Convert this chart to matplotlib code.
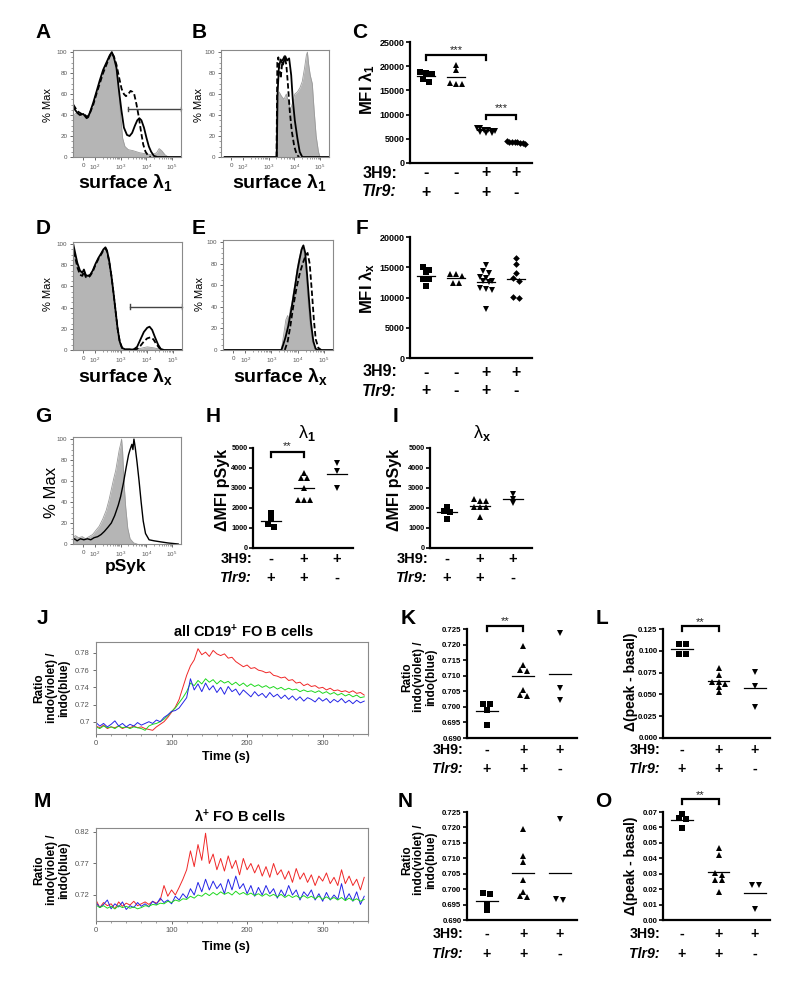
import numpy as np
import matplotlib
matplotlib.use('Agg')
import matplotlib.pyplot as plt
from matplotlib import transforms

plt.rcParams['font.family'] = ['Liberation Sans', 'DejaVu Sans']
plt.rcParams['mathtext.fontset'] = 'custom'
plt.rcParams['mathtext.rm'] = 'Liberation Sans:bold'
plt.rcParams['mathtext.bf'] = 'Liberation Sans:bold'
plt.rcParams['mathtext.it'] = 'Liberation Sans:bold:italic'
plt.rcParams['mathtext.default'] = 'bf'

# ---------------- histogram data (x = log10 display units, y = % max) ----------------
# panel A, surface lambda1
A_gray_x = [1.16, 1.29, 1.42, 1.55, 1.68, 1.81, 1.94, 2.06, 2.19, 2.32, 2.45, 2.58, 2.65, 2.71,
            2.82, 2.91, 3.0, 3.08, 3.17, 3.3, 3.49, 3.75, 4.01, 4.21, 4.4, 4.5, 4.6, 4.73, 4.86]
A_gray_y = [40, 42, 39, 41, 38, 43, 50, 60, 72, 82, 90, 97, 100, 96,
            88, 70, 40, 18, 10, 7, 6, 4, 3, 2, 4, 8, 6, 2, 0]
A_solid_x = [1.16, 1.23, 1.32, 1.42, 1.55, 1.68, 1.74, 1.83, 1.94, 2.06, 2.19, 2.32, 2.45, 2.58,
             2.66, 2.74, 2.84, 2.93, 3.03, 3.13, 3.25, 3.35, 3.45, 3.56, 3.65, 3.73, 3.81, 3.91,
             4.01, 4.1, 4.19, 4.3, 4.43, 5.33]
A_solid_y = [47, 45, 42, 40, 41, 37, 38, 44, 52, 62, 73, 83, 90, 97,
             100, 95, 85, 65, 45, 28, 21, 20, 23, 30, 35, 37, 35, 28,
             18, 10, 5, 1, 0, 0]
A_dash_x = [1.16, 1.26, 1.36, 1.49, 1.62, 1.71, 1.81, 1.94, 2.06, 2.19, 2.32, 2.45, 2.58, 2.66,
            2.74, 2.84, 2.95, 3.04, 3.13, 3.21, 3.3, 3.39, 3.47, 3.53, 3.62, 3.71, 3.79, 3.88,
            3.97, 4.08, 4.17]
A_dash_y = [50, 46, 43, 41, 40, 38, 42, 50, 60, 70, 80, 88, 96, 99,
            96, 88, 75, 65, 60, 58, 60, 63, 62, 60, 50, 38, 25, 12,
            5, 1, 0]
A_gate = (3.27, 46)

# panel B
B_gray_x = [1.29, 3.25, 3.29, 3.31, 3.34, 3.41, 3.5, 3.6, 3.69, 3.78, 3.85, 3.94, 4.02, 4.12,
            4.22, 4.31, 4.4, 4.47, 4.51, 4.56, 4.62, 4.7, 4.77, 4.85, 4.94, 5.0]
B_gray_y = [0, 0, 0, 30, 55, 62, 58, 55, 60, 52, 45, 52, 60, 62,
            66, 72, 85, 97, 100, 88, 78, 70, 45, 20, 5, 0]
B_solid_x = [1.29, 3.32, 3.35, 3.4, 3.47, 3.56, 3.65, 3.72, 3.8, 3.88, 3.94, 4.02, 4.12, 4.21,
             4.31, 5.35]
B_solid_y = [0, 0, 60, 85, 93, 88, 96, 92, 94, 78, 55, 35, 18, 5, 0, 0]
B_dash_x = [3.31, 3.34, 3.38, 3.42, 3.47, 3.54, 3.62, 3.69, 3.75, 3.82, 3.9, 4.0, 4.1, 4.19]
B_dash_y = [0, 90, 95, 85, 75, 92, 96, 88, 70, 45, 25, 10, 2, 0]

# panel D, surface lambdax
D_gray_x = [1.16, 1.23, 1.32, 1.42, 1.51, 1.57, 1.64, 1.71, 1.81, 1.91, 2.01, 2.13, 2.23, 2.32,
            2.4, 2.45, 2.53, 2.62, 2.71, 2.79, 2.87, 2.95, 3.04, 3.17, 3.49, 3.75, 4.01, 4.27,
            4.53, 4.79]
D_gray_y = [97, 90, 80, 74, 72, 76, 70, 69, 70, 74, 80, 86, 90, 94,
            96, 93, 85, 72, 55, 38, 20, 8, 2, 0.5, 0.5, 1.5, 3, 2,
            0.5, 0]
D_solid_x = [1.16, 1.23, 1.32, 1.42, 1.51, 1.57, 1.64, 1.71, 1.81, 1.91, 2.01, 2.13, 2.23, 2.32,
             2.4, 2.46, 2.54, 2.63, 2.71, 2.79, 2.87, 2.95, 3.04, 3.17, 3.49, 3.62, 3.75, 3.88,
             4.01, 4.1, 4.2, 4.31, 4.43, 4.53, 4.66, 5.35]
D_solid_y = [100, 92, 82, 75, 73, 76, 71, 70, 71, 75, 81, 87, 91, 95,
             97, 94, 85, 70, 54, 37, 20, 8, 2, 0.5, 0.5, 3, 10, 17,
             21, 22, 19, 12, 5, 1, 0, 0]
D_dash_x = [1.16, 1.23, 1.32, 1.42, 1.51, 1.57, 1.64, 1.71, 1.81, 1.91, 2.01, 2.13, 2.23, 2.32,
            2.4, 2.46, 2.54, 2.63, 2.71, 2.79, 2.87, 2.95, 3.04, 3.17, 3.49, 3.62, 3.75, 3.88,
            4.01, 4.14, 4.25, 4.35, 4.47, 4.6]
D_dash_y = [93, 88, 78, 71, 70, 74, 69, 68, 70, 74, 80, 86, 90, 94,
            96, 93, 84, 70, 54, 37, 20, 8, 2, 0.5, 0.5, 1, 4, 8,
            11, 12, 10, 6, 2, 0]
D_gate = (3.34, 41)

# panel E
E_gray_x = [1.2, 3.36, 3.41, 3.49, 3.55, 3.62, 3.67, 3.72, 3.77, 3.83, 3.9, 3.96, 4.03, 4.09,
            4.15, 4.21, 4.26, 4.32, 4.38, 4.47, 4.56, 4.67]
E_gray_y = [0, 0, 5, 18, 28, 32, 28, 38, 42, 52, 62, 72, 82, 88,
            95, 97, 88, 72, 50, 25, 8, 0]
E_solid_x = [1.2, 3.38, 3.45, 3.54, 3.64, 3.74, 3.83, 3.92, 4.0, 4.08, 4.15, 4.22, 4.29, 4.36,
             4.44, 4.51, 4.6, 4.69, 4.79, 5.4]
E_solid_y = [0, 0, 5, 12, 22, 35, 48, 62, 75, 85, 93, 97, 90, 70,
             45, 25, 8, 1, 0, 0]
E_dash_x = [3.51, 3.62, 3.72, 3.83, 3.96, 4.09, 4.22, 4.31, 4.38, 4.46, 4.54, 4.62, 4.69, 4.79, 4.9]
E_dash_y = [0, 8, 22, 40, 58, 72, 82, 88, 90, 80, 55, 28, 10, 2, 0]

# panel G, pSyk
G_gray_x = [1.11, 1.24, 1.37, 1.51, 1.64, 1.77, 1.91, 2.04, 2.17, 2.31, 2.44, 2.55, 2.64, 2.73,
            2.81, 2.88, 2.95, 3.0, 3.04, 3.08, 3.13, 3.2, 3.28, 3.37, 3.51, 3.64]
G_gray_y = [5, 8, 6, 7, 5, 7, 9, 13, 17, 24, 32, 42, 52, 62,
            70, 80, 90, 95, 100, 88, 60, 35, 15, 5, 1, 0]
G_line_x = [1.11, 1.21, 1.31, 1.44, 1.57, 1.71, 1.84, 1.97, 2.11, 2.24, 2.37, 2.51, 2.64, 2.77,
            2.91, 3.0, 3.11, 3.21, 3.31, 3.37, 3.44, 3.48, 3.52, 3.57, 3.64, 3.72, 3.8, 3.88,
            3.97, 4.11, 4.31, 4.57, 4.84, 5.04, 5.24]
G_line_y = [3, 5, 3, 5, 4, 5, 4, 6, 7, 9, 12, 16, 20, 27,
            37, 45, 58, 72, 85, 90, 95, 90, 100, 92, 78, 60, 40, 22,
            10, 4, 3, 2, 1, 0.5, 0]

# ---------------- dot plots ----------------
C_vals = [[18500, 18300, 18700, 16700, 17400],
          [20200, 19300, 16400, 16300, 16500],
          [7300, 7200, 6900, 6800, 6700, 6600, 6500, 6300, 6200],
          [4500, 4400, 4350, 4300, 4250, 4200, 4100, 4000]]
F_vals = [[15000, 14200, 14500, 13000, 13000, 11900],
          [13900, 13900, 13600, 12400, 12400],
          [15300, 14300, 14100, 13300, 13400, 12600, 12800, 12700, 11600, 11400, 11200, 8100],
          [16550, 15510, 13970, 13260, 12710, 9860, 10030]]
H_vals = [[1730, 1470, 1210, 1060],
          [3740, 3500, 3500, 3020, 2400, 2400, 2400],
          [4250, 3850, 3000]]
I_vals = [[1860, 1810, 2030, 1440],
          [2430, 2370, 2370, 2030, 2030, 2030, 1560],
          [2700, 2450, 2230]]
K_vals = [[0.7008, 0.7010, 0.6990, 0.6943],
          [0.7196, 0.7133, 0.7118, 0.7116, 0.7053, 0.7034, 0.7037],
          [0.7236, 0.7059, 0.7021]]
L_vals = [[0.1077, 0.1077, 0.0959, 0.0959],
          [0.0805, 0.0721, 0.0644, 0.0637, 0.0625, 0.0587, 0.0529],
          [0.0759, 0.0594, 0.0357]]
N_vals = [[0.6988, 0.6983, 0.6948, 0.6932],
          [0.7194, 0.7107, 0.7088, 0.7029, 0.6992, 0.6975, 0.6979],
          [0.7226, 0.6965, 0.6967]]
O_vals = [[0.0663, 0.0657, 0.0685, 0.0597],
          [0.0467, 0.0420, 0.0306, 0.0291, 0.0258, 0.0258, 0.0179],
          [0.0230, 0.0226, 0.0069]]

geno4_3h9 = ['-', '-', '+', '+']
geno4_tlr9 = ['+', '-', '+', '-']
geno3_3h9 = ['-', '+', '+']
geno3_tlr9 = ['+', '+', '-']

# ---------------- calcium flux traces, every 5 s ----------------
t_flux = np.arange(0, 360, 5)
J_red = [0.695, 0.693, 0.696, 0.692, 0.694, 0.693, 0.695, 0.692, 0.694, 0.693, 0.695, 0.693,
         0.694, 0.692, 0.691, 0.690, 0.694, 0.697, 0.700, 0.705, 0.711, 0.717, 0.726, 0.740,
         0.754, 0.765, 0.772, 0.785, 0.778, 0.781, 0.776, 0.783, 0.779, 0.777, 0.779, 0.774,
         0.775, 0.770, 0.767, 0.764, 0.766, 0.762, 0.763, 0.760, 0.759, 0.757, 0.758, 0.754,
         0.753, 0.751, 0.752, 0.748, 0.749, 0.745, 0.746, 0.742, 0.744, 0.741, 0.742, 0.739,
         0.740, 0.737, 0.739, 0.736, 0.737, 0.735, 0.736, 0.734, 0.736, 0.733, 0.734, 0.731]
J_green = [0.694, 0.692, 0.695, 0.693, 0.694, 0.692, 0.695, 0.693, 0.694, 0.692, 0.694, 0.693,
           0.692, 0.690, 0.695, 0.697, 0.698, 0.700, 0.703, 0.707, 0.712, 0.716, 0.722, 0.728,
           0.735, 0.745, 0.742, 0.748, 0.744, 0.750, 0.746, 0.749, 0.744, 0.748, 0.745, 0.747,
           0.743, 0.746, 0.742, 0.745, 0.741, 0.744, 0.741, 0.743, 0.740, 0.742, 0.739, 0.741,
           0.738, 0.740, 0.737, 0.739, 0.737, 0.738, 0.735, 0.737, 0.735, 0.736, 0.734, 0.736,
           0.733, 0.735, 0.732, 0.734, 0.731, 0.733, 0.730, 0.732, 0.729, 0.731, 0.728, 0.729]
J_blue = [0.699, 0.695, 0.698, 0.694, 0.697, 0.701, 0.695, 0.698, 0.694, 0.697, 0.695, 0.699,
          0.696, 0.698, 0.700, 0.698, 0.702, 0.700, 0.705, 0.708, 0.712, 0.713, 0.716, 0.722,
          0.728, 0.750, 0.737, 0.744, 0.735, 0.745, 0.737, 0.742, 0.734, 0.740, 0.732, 0.741,
          0.735, 0.738, 0.731, 0.737, 0.733, 0.729, 0.735, 0.730, 0.733, 0.728, 0.734, 0.729,
          0.732, 0.727, 0.731, 0.726, 0.730, 0.725, 0.729, 0.724, 0.728, 0.726, 0.723, 0.728,
          0.724, 0.727, 0.722, 0.726, 0.723, 0.727, 0.722, 0.725, 0.721, 0.725, 0.722, 0.724]
M_red = [0.712, 0.700, 0.708, 0.703, 0.706, 0.698, 0.709, 0.702, 0.707, 0.704, 0.710, 0.703,
         0.706, 0.709, 0.705, 0.710, 0.707, 0.712, 0.735, 0.718, 0.728, 0.720, 0.732, 0.745,
         0.760, 0.790, 0.765, 0.800, 0.775, 0.818, 0.770, 0.785, 0.760, 0.778, 0.758, 0.782,
         0.762, 0.775, 0.752, 0.778, 0.760, 0.770, 0.755, 0.768, 0.750, 0.765, 0.748, 0.770,
         0.752, 0.760, 0.745, 0.758, 0.740, 0.762, 0.745, 0.755, 0.740, 0.752, 0.735, 0.750,
         0.742, 0.755, 0.738, 0.748, 0.735, 0.760, 0.738, 0.750, 0.735, 0.745, 0.728, 0.748]
M_blue = [0.708, 0.700, 0.705, 0.712, 0.698, 0.706, 0.701, 0.709, 0.697, 0.703, 0.700, 0.708,
          0.702, 0.706, 0.701, 0.710, 0.705, 0.715, 0.708, 0.712, 0.706, 0.718, 0.712, 0.722,
          0.715, 0.730, 0.720, 0.740, 0.725, 0.745, 0.728, 0.742, 0.730, 0.738, 0.722, 0.745,
          0.728, 0.750, 0.730, 0.738, 0.722, 0.735, 0.718, 0.732, 0.720, 0.735, 0.722, 0.730,
          0.715, 0.728, 0.718, 0.735, 0.720, 0.728, 0.712, 0.725, 0.718, 0.728, 0.712, 0.722,
          0.710, 0.724, 0.712, 0.720, 0.713, 0.738, 0.712, 0.722, 0.710, 0.725, 0.705, 0.718]
M_green = [0.704, 0.700, 0.703, 0.699, 0.702, 0.698, 0.703, 0.700, 0.702, 0.699, 0.701, 0.698,
           0.700, 0.703, 0.702, 0.705, 0.704, 0.707, 0.706, 0.710, 0.708, 0.712, 0.710, 0.714,
           0.713, 0.718, 0.715, 0.720, 0.718, 0.723, 0.719, 0.724, 0.720, 0.725, 0.721, 0.724,
           0.720, 0.726, 0.721, 0.724, 0.720, 0.723, 0.719, 0.722, 0.718, 0.722, 0.718, 0.721,
           0.717, 0.721, 0.716, 0.720, 0.716, 0.719, 0.715, 0.719, 0.715, 0.718, 0.714, 0.718,
           0.713, 0.717, 0.713, 0.716, 0.712, 0.716, 0.711, 0.715, 0.711, 0.714, 0.710, 0.713]

W, H = 800, 996
fig = plt.figure(figsize=(8, 9.96), dpi=100)


def fx(x):
    return x / W


def fy(y):
    return 1 - y / H


def add_ax(l, t, r, b):
    return fig.add_axes([l / W, 1 - b / H, (r - l) / W, (b - t) / H])


def letter(x, y, s):
    fig.text(fx(x), fy(y), s, fontsize=15, fontweight='bold', ha='center', va='center')


def hist_panel(ax, gx, gy, curves, gate=None):
    ax.fill_between(gx, gy, color='#b5b5b5', lw=0)
    ax.plot(gx, gy, color='#9a9a9a', lw=0.6)
    for x, y, ls in curves:
        ax.plot(x, y, color='black', lw=1.3, ls=ls)
    if gate is not None:
        x0, yg = gate
        ax.plot([x0, 5.35], [yg, yg], color='#444444', lw=1.0, clip_on=False)
        ax.plot([x0, x0], [yg - 2, yg + 2], color='#444444', lw=1.0)
        ax.plot([5.34, 5.34], [yg - 2, yg + 2], color='#444444', lw=1.0)
    ax.set_xlim(1.15, 5.35)
    ax.set_ylim(0, 102)
    ax.set_xticks([1.55, 2, 3, 4, 5])
    ax.set_xticklabels(['0', r'$\mathregular{10^2}$', r'$\mathregular{10^3}$',
                        r'$\mathregular{10^4}$', r'$\mathregular{10^5}$'])
    minors = [np.log10(k * 10 ** n) for n in range(2, 5) for k in range(2, 10)]
    ax.set_xticks(minors, minor=True)
    ax.set_yticks([0, 20, 40, 60, 80, 100])
    ax.set_yticks(np.arange(0, 101, 5), minor=True)
    ax.tick_params(axis='both', which='major', labelsize=4.5, colors='#555555',
                   length=2.5, width=0.6, pad=1.5)
    ax.tick_params(axis='both', which='minor', length=1.3, width=0.5, colors='#777777')
    for s in ax.spines.values():
        s.set_color('#8a8a8a')
        s.set_linewidth(0.8)


def swarm(vals, bin_size, step):
    order = np.argsort(vals)[::-1]
    offs = np.zeros(len(vals))
    bins, cur, start = [], [], None
    for i in order:
        if start is None or start - vals[i] > bin_size:
            if cur:
                bins.append(cur)
            cur, start = [i], vals[i]
        else:
            cur.append(i)
    bins.append(cur)
    for b in bins:
        n = len(b)
        st = step if n < 2 else min(step, 0.62 / (n - 1))
        for k, i in enumerate(b):
            offs[i] = (k - (n - 1) / 2) * st
    return offs


def dot_panel(ax, groups, markers, ylim, yticks, fmt, xlim, tick_fs=6.0):
    span = ylim[1] - ylim[0]
    for k, (vals, m) in enumerate(zip(groups, markers)):
        vals = np.asarray(vals, dtype=float)
        off = swarm(vals, span * 0.03, 0.19)
        ms = 4.2 if m != 'D' else 3.4
        ax.plot(k + 1 + off, vals, ls='none', marker=m, ms=ms, color='black', mew=0,
                clip_on=False)
        mean = vals.mean()
        ax.plot([k + 0.7, k + 1.3], [mean, mean], color='black', lw=0.9)
    ax.set_xlim(xlim)
    ax.set_ylim(ylim)
    ax.set_yticks(yticks)
    ax.set_yticklabels([fmt.format(v) for v in yticks])
    ax.set_xticks([])
    for side in ['top', 'right']:
        ax.spines[side].set_visible(False)
    for side in ['left', 'bottom']:
        ax.spines[side].set_linewidth(1.6)
    ax.tick_params(axis='y', direction='out', length=3, width=1.2, labelsize=tick_fs, pad=1)
    for lbl in ax.get_yticklabels():
        lbl.set_fontweight('bold')


def bracket(ax, x1, x2, ytop, ylow, ystar, stars):
    ax.plot([x1, x1, x2, x2], [ylow, ytop, ytop, ylow], color='black', lw=1.6,
            clip_on=False, solid_joinstyle='miter')
    ax.text((x1 + x2) / 2, ystar, stars, ha='center', va='center', fontsize=8,
            color='#222222')


def geno(ax, right, rows, row1, row2, fs=11.5):
    trans = transforms.blended_transform_factory(ax.transData, fig.transFigure)
    fig.text(fx(right), fy(rows[0]), '3H9:', ha='right', va='center', fontsize=fs,
             fontweight='bold')
    fig.text(fx(right), fy(rows[1]), 'Tlr9:', ha='right', va='center', fontsize=fs,
             fontweight='bold', fontstyle='italic')
    for k, (a, b) in enumerate(zip(row1, row2)):
        ax.text(k + 1, fy(rows[0]), a, transform=trans, ha='center', va='center',
                fontsize=fs, fontweight='bold')
        ax.text(k + 1, fy(rows[1]), b, transform=trans, ha='center', va='center',
                fontsize=fs, fontweight='bold')


def trace_panel(ax, series, ylim, yticks, ylabels):
    for y, c in series:
        ax.plot(t_flux, y, color=c, lw=0.7)
    ax.set_xlim(0, 360)
    ax.set_ylim(ylim)
    ax.set_xticks([0, 100, 200, 300])
    ax.set_xticks(np.arange(0, 361, 20), minor=True)
    ax.set_yticks(yticks)
    ax.set_yticklabels(ylabels)
    ax.tick_params(axis='both', which='major', labelsize=5.5, colors='#555555',
                   length=2.5, width=0.6, pad=2)
    ax.tick_params(axis='both', which='minor', length=1.5, width=0.5, colors='#777777')
    for s in ax.spines.values():
        s.set_color('#8a8a8a')
        s.set_linewidth(0.8)


RED, GREEN, BLUE = '#f02828', '#1fd81f', '#2525e6'

# ---------------- row 1 ----------------
axA = add_ax(73, 50, 181, 157)
hist_panel(axA, A_gray_x, A_gray_y, [(A_solid_x, A_solid_y, '-'),
                                      (A_dash_x, A_dash_y, (0, (3, 1.5)))], A_gate)
axB = add_ax(221, 50, 329, 157)
hist_panel(axB, B_gray_x, B_gray_y, [(B_solid_x, B_solid_y, '-'),
                                      (B_dash_x, B_dash_y, (0, (3, 1.5)))])
for x in (48, 199):
    fig.text(fx(x), fy(105), '% Max', rotation=90, ha='center', va='center', fontsize=8)
fig.text(fx(126), fy(182), 'surface λ$_{1}$', ha='center', va='center', fontsize=14,
         fontweight='bold')
fig.text(fx(280), fy(182), 'surface λ$_{1}$', ha='center', va='center', fontsize=14,
         fontweight='bold')

axC = add_ax(410, 42, 532, 163)
dot_panel(axC, C_vals, ['s', '^', 'v', 'D'], (0, 25000), list(range(0, 25001, 5000)),
          '{:d}', (0.467, 4.53), tick_fs=6.5)
bracket(axC, 1, 3, 22250, 21200, 23300, '***')
bracket(axC, 3, 4, 10000, 9070, 11250, '***')
geno(axC, 397, (173, 192), geno4_3h9, geno4_tlr9)
fig.text(fx(367), fy(90), 'MFI λ$_{1}$', rotation=90, ha='center', va='center',
         fontsize=12, fontweight='bold')

# ---------------- row 2 ----------------
axD = add_ax(73, 242, 182, 350)
hist_panel(axD, D_gray_x, D_gray_y, [(D_solid_x, D_solid_y, '-'),
                                      (D_dash_x, D_dash_y, (0, (3, 1.5)))], D_gate)
axE = add_ax(223, 240, 333, 350)
hist_panel(axE, E_gray_x, E_gray_y, [(E_solid_x, E_solid_y, '-'),
                                      (E_dash_x, E_dash_y, (0, (3, 1.5)))])
fig.text(fx(48), fy(294), '% Max', rotation=90, ha='center', va='center', fontsize=8)
fig.text(fx(200), fy(294), '% Max', rotation=90, ha='center', va='center', fontsize=8)
fig.text(fx(126), fy(376), 'surface λ$_{x}$', ha='center', va='center', fontsize=14,
         fontweight='bold')
fig.text(fx(281), fy(376), 'surface λ$_{x}$', ha='center', va='center', fontsize=14,
         fontweight='bold')

axF = add_ax(410, 237, 532, 358)
dot_panel(axF, F_vals, ['s', '^', 'v', 'D'], (0, 20000), list(range(0, 20001, 5000)),
          '{:d}', (0.467, 4.53), tick_fs=6.5)
geno(axF, 397, (372, 391), geno4_3h9, geno4_tlr9)
fig.text(fx(367), fy(288), 'MFI λ$_{x}$', rotation=90, ha='center', va='center',
         fontsize=12, fontweight='bold')

# ---------------- row 3 ----------------
axG = add_ax(73, 437, 181, 544)
hist_panel(axG, G_gray_x, G_gray_y, [(G_line_x, G_line_y, '-')])
axG.lines[-1].set_linewidth(1.0)
fig.text(fx(52), fy(492), '% Max', rotation=90, ha='center', va='center', fontsize=12)
fig.text(fx(126), fy(566), 'pSyk', ha='center', va='center', fontsize=12.5,
         fontweight='bold')

axH = add_ax(253, 448, 353, 548)
dot_panel(axH, H_vals, ['s', '^', 'v'], (0, 5000), list(range(0, 5001, 1000)),
          '{:d}', (0.455, 3.485), tick_fs=5.3)
bracket(axH, 1, 2, 4800, 4550, 5080, '**')
geno(axH, 252, (559, 578), geno3_3h9, geno3_tlr9, fs=10.5)
fig.text(fx(222), fy(490), 'ΔMFI pSyk', rotation=90, ha='center', va='center',
         fontsize=11.5, fontweight='bold')
fig.text(fx(307), fy(433), 'λ$_{1}$', ha='center', va='center', fontsize=13)

axI = add_ax(430, 448, 532, 548)
dot_panel(axI, I_vals, ['s', '^', 'v'], (0, 5000), list(range(0, 5001, 1000)),
          '{:d}', (0.485, 3.57), tick_fs=5.3)
geno(axI, 428, (559, 578), geno3_3h9, geno3_tlr9, fs=10.5)
fig.text(fx(395), fy(490), 'ΔMFI pSyk', rotation=90, ha='center', va='center',
         fontsize=11.5, fontweight='bold')
fig.text(fx(482), fy(433), 'λ$_{x}$', ha='center', va='center', fontsize=13)

# ---------------- row 4 ----------------
ratio_label = 'Ratio\nindo(violet) /\nindo(blue)'
axJ = add_ax(96, 642, 368, 734)
trace_panel(axJ, [(J_red, RED), (J_green, GREEN), (J_blue, BLUE)], (0.6857, 0.7928),
            [0.70, 0.72, 0.74, 0.76, 0.78], ['0.7', '0.72', '0.74', '0.76', '0.78'])
fig.text(fx(52), fy(688), ratio_label, rotation=90, ha='center', va='center',
         fontsize=8.5, fontweight='bold', linespacing=1.05)
fig.text(fx(244), fy(632), 'all CD19$^{+}$ FO B cells', ha='center', va='center',
         fontsize=10.5, fontweight='bold')
fig.text(fx(226), fy(757), 'Time (s)', ha='center', va='center', fontsize=9,
         fontweight='bold')

axK = add_ax(467, 629, 577, 738)
dot_panel(axK, K_vals, ['s', '^', 'v'], (0.690, 0.725),
          [0.690, 0.695, 0.700, 0.705, 0.710, 0.715, 0.720, 0.725], '{:.3f}',
          (0.458, 3.47), tick_fs=5.6)
bracket(axK, 1, 2, 0.7260, 0.7244, 0.7275, '**')
geno(axK, 463, (750, 769), geno3_3h9, geno3_tlr9, fs=10.2)
fig.text(fx(419), fy(677), ratio_label, rotation=90, ha='center', va='center',
         fontsize=8.5, fontweight='bold', linespacing=1.0)

axL = add_ax(663, 629, 770, 738)
dot_panel(axL, L_vals, ['s', '^', 'v'], (0, 0.125),
          [0, 0.025, 0.05, 0.075, 0.1, 0.125], '{:.3f}', (0.478, 3.41), tick_fs=5.6)
bracket(axL, 1, 2, 0.1285, 0.1227, 0.1335, '**')
geno(axL, 660, (750, 769), geno3_3h9, geno3_tlr9, fs=10.2)
fig.text(fx(631), fy(682), 'Δ(peak - basal)', rotation=90, ha='center', va='center',
         fontsize=10, fontweight='bold')

# ---------------- row 5 ----------------
axM = add_ax(96, 828, 368, 921)
trace_panel(axM, [(M_red, RED), (M_blue, BLUE), (M_green, GREEN)], (0.6787, 0.8263),
            [0.72, 0.77, 0.82], ['0.72', '0.77', '0.82'])
fig.text(fx(52), fy(870), ratio_label, rotation=90, ha='center', va='center',
         fontsize=8.5, fontweight='bold', linespacing=1.05)
fig.text(fx(240), fy(817), 'λ$^{+}$ FO B cells', ha='center', va='center',
         fontsize=10.5, fontweight='bold')
fig.text(fx(226), fy(947), 'Time (s)', ha='center', va='center', fontsize=9,
         fontweight='bold')

axN = add_ax(467, 812, 577, 920)
dot_panel(axN, N_vals, ['s', '^', 'v'], (0.690, 0.725),
          [0.690, 0.695, 0.700, 0.705, 0.710, 0.715, 0.720, 0.725], '{:.3f}',
          (0.458, 3.47), tick_fs=5.6)
geno(axN, 463, (934, 954), geno3_3h9, geno3_tlr9, fs=10.2)
fig.text(fx(419), fy(860), ratio_label, rotation=90, ha='center', va='center',
         fontsize=8.5, fontweight='bold', linespacing=1.0)

axO = add_ax(663, 812, 770, 920)
dot_panel(axO, O_vals, ['s', '^', 'v'], (0, 0.07),
          [0, 0.01, 0.02, 0.03, 0.04, 0.05, 0.06, 0.07], '{:.2f}', (0.478, 3.41),
          tick_fs=5.6)
bracket(axO, 1, 2, 0.0784, 0.0752, 0.0812, '**')
geno(axO, 660, (934, 954), geno3_3h9, geno3_tlr9, fs=10.2)
fig.text(fx(631), fy(866), 'Δ(peak - basal)', rotation=90, ha='center', va='center',
         fontsize=10, fontweight='bold')

# ---------------- panel letters ----------------
for s, x, y in [('A', 43, 33), ('B', 199, 33), ('C', 360, 33),
                ('D', 43, 228), ('E', 199, 228), ('F', 362, 228),
                ('G', 43, 416), ('H', 213, 416), ('I', 395, 416),
                ('J', 42, 618), ('K', 408, 618), ('L', 602, 618),
                ('M', 42, 801), ('N', 405, 801), ('O', 603, 801)]:
    letter(x, y, s)

fig.savefig('out.png', dpi=100)
